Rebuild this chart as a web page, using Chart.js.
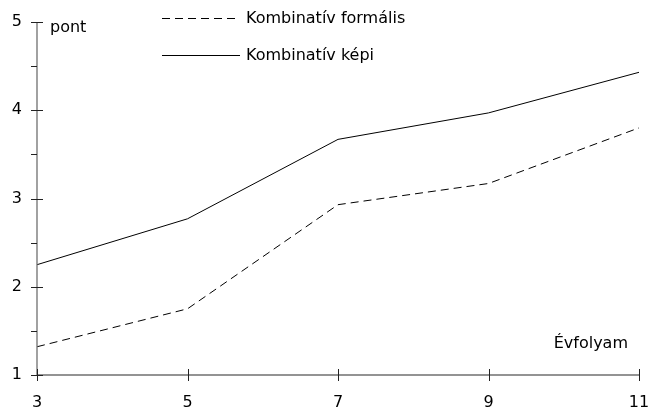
<!DOCTYPE html>
<html><head><meta charset="utf-8">
<script src="https://cdn.jsdelivr.net/npm/chart.js@4"></script>
<style>html,body{margin:0;padding:0;background:#fff}#wrap{width:650px;height:412px;position:relative}</style>
</head><body><div id="wrap"><canvas id="c"></canvas></div>
<script>
const categories = ['3', '5', '7', '9', '11'];
const formalis = [1.32, 1.75, 2.93, 3.17, 3.80];
const kepi = [2.25, 2.77, 3.67, 3.97, 4.43];
const seriesNames = ['Kombinatív formális', 'Kombinatív képi'];
const yTickValues = [1, 1.5, 2, 2.5, 3, 3.5, 4, 4.5, 5];
const yUnit = 'pont';
const xUnit = 'Évfolyam';

const FONT = 'Tahoma, "DejaVu Sans", sans-serif';
const AXIS = '#707070';

const decor = {
  id: 'decor',
  afterDraw(chart) {
    const ctx = chart.ctx, x = chart.scales.x, y = chart.scales.y;
    const ax = chart.chartArea.left, ay = chart.chartArea.bottom;
    ctx.save();
    ctx.strokeStyle = AXIS; ctx.lineWidth = 1.3;
    ctx.beginPath();
    ctx.moveTo(ax, y.getPixelForValue(5)); ctx.lineTo(ax, ay);
    ctx.lineTo(x.getPixelForValue(categories.length - 1), ay);
    ctx.stroke();
    ctx.strokeStyle = '#222'; ctx.lineWidth = 1;
    yTickValues.forEach(v => {
      const py = Math.round(y.getPixelForValue(v)) + 0.5;
      ctx.beginPath();
      if (Number.isInteger(v)) { ctx.moveTo(ax - 6, py); ctx.lineTo(ax + 6, py); }
      else { ctx.moveTo(ax - 6, py); ctx.lineTo(ax, py); }
      ctx.stroke();
    });
    categories.forEach((c, i) => {
      const px = Math.round(x.getPixelForValue(i)) + 0.5;
      ctx.beginPath(); ctx.moveTo(px, ay - 6); ctx.lineTo(px, ay + 6); ctx.stroke();
    });
    ctx.fillStyle = '#000';
    ctx.font = '16px ' + FONT;
    ctx.textBaseline = 'middle'; ctx.textAlign = 'left';
    ctx.fillText(yUnit, ax + 13, y.getPixelForValue(5) + 6);
    ctx.textBaseline = 'alphabetic'; ctx.textAlign = 'right';
    ctx.fillText(xUnit, 628, 348);
    ctx.textAlign = 'left';
    // legend
    chart.data.datasets.forEach((ds, i) => {
      const ly = 18 + i * 37;
      ctx.strokeStyle = '#000'; ctx.lineWidth = 1;
      ctx.setLineDash(ds.borderDash || []);
      ctx.beginPath(); ctx.moveTo(162, ly + 0.5); ctx.lineTo(240, ly + 0.5); ctx.stroke();
      ctx.setLineDash([]);
      ctx.textBaseline = 'middle';
      ctx.fillText(ds.label, 246, ly + 1);
    });
    ctx.restore();
  }
};

new Chart(document.getElementById('c'), {
  type: 'line',
  data: {
    labels: categories,
    datasets: [
      { label: seriesNames[0], data: formalis, borderColor: '#000', borderWidth: 1, borderDash: [8, 5], pointRadius: 0, tension: 0 },
      { label: seriesNames[1], data: kepi, borderColor: '#000', borderWidth: 1, pointRadius: 0, tension: 0 }
    ]
  },
  options: {
    responsive: true, maintainAspectRatio: false, animation: false,
    layout: { padding: { top: 22, right: 11, left: 0, bottom: 0 } },
    plugins: { legend: { display: false }, tooltip: { enabled: false } },
    scales: {
      x: {
        offset: false,
        grid: { display: false, drawTicks: false }, border: { display: false },
        ticks: { color: '#000', font: { family: FONT, size: 16 }, padding: 18, maxRotation: 0, autoSkip: false },
        afterFit(s) { s.height = 37; s.paddingLeft = 0; s.paddingRight = 0; }
      },
      y: {
        min: 1, max: 5,
        grid: { display: false, drawTicks: false }, border: { display: false },
        afterBuildTicks(s) { s.ticks = yTickValues.map(v => ({ value: v })); },
        ticks: { color: '#000', font: { family: FONT, size: 16 }, padding: 15,
          callback: v => Number.isInteger(v) ? String(v) : '' },
        afterFit(s) { s.width = 37; s.paddingTop = 0; s.paddingBottom = 0; }
      }
    }
  },
  plugins: [decor]
});
</script></body></html>
